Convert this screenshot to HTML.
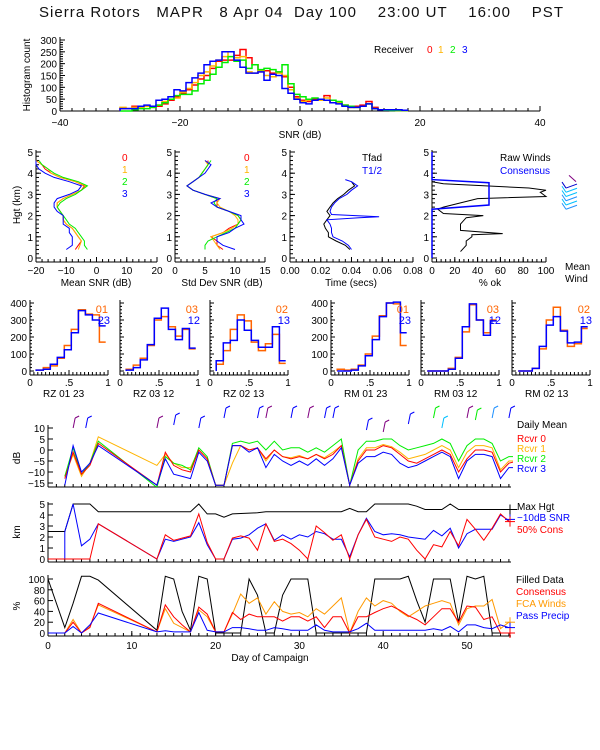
<!DOCTYPE html>
<html><head><meta charset="utf-8"><style>
body{margin:0;background:#fff}
svg{display:block}
text{font-family:"Liberation Sans",sans-serif;font-size:10px}
</style></head><body>
<svg id="c" width="600" height="750" viewBox="0 0 600 750" xmlns="http://www.w3.org/2000/svg">
<text x="39" y="17" xml:space="preserve" textLength="524" lengthAdjust="spacing" style="font-size:15px;white-space:pre;fill:#111">Sierra Rotors   MAPR   8 Apr 04  Day 100    23:00 UT    16:00    PST</text>
</svg>
<script>
// ---------- data ----------
const histBins=[-30,-29,-28,-27,-26,-25,-24,-23,-22,-21,-20,-19,-18,-17,-16,-15,-14,-13,-12,-11,-10,-9,-8,-7,-6,-5,-4,-3,-2,-1,0,1,2,3,4,5,6,7,8,9,10,11,12,13,14,15,16,17];
const histRed=[10,10,20,20,20,15,20,30,45,60,75,90,110,135,150,180,210,215,215,235,260,225,195,165,170,160,165,145,100,60,45,40,50,45,65,35,35,25,15,20,25,40,15,5,5,3,2,2];
const histOrange=[15,10,15,15,20,20,25,40,50,55,80,95,120,150,165,190,215,230,250,225,230,165,160,170,150,145,160,150,90,55,40,45,45,45,55,35,35,25,15,15,20,30,10,5,5,3,2,2];
const histGreen=[0,0,5,10,10,15,25,35,50,65,70,70,85,115,130,155,185,205,230,210,215,180,195,175,180,175,165,195,115,70,60,50,55,50,45,45,40,25,20,15,20,30,10,5,3,2,2,2];
const histBlue=[10,10,10,20,25,20,45,50,60,90,85,120,140,160,195,210,215,250,250,215,185,160,160,165,130,155,150,95,75,50,35,30,45,50,45,35,30,20,15,15,20,30,10,5,5,5,5,3];
const profHgt=[0.4,0.6,0.8,1.0,1.2,1.4,1.6,1.8,2.0,2.2,2.4,2.6,2.8,3.0,3.2,3.4,3.6,3.8,4.0,4.2,4.4,4.6];
const snrRed=[-7,-6,-5,-6,-7,-8,-10,-11,-11,-12,-13,-13,-11,-8,-5,-4,-7,-12,-15,-17,-18,-20];
const snrOrange=[-6,-5.5,-5,-6,-7,-8,-10,-11,-11,-12,-13,-13,-11,-8,-5,-3.5,-7,-12,-15,-16,-18,-20];
const snrGreen=[-3,-4,-4,-5,-6,-7,-9,-10,-11,-12,-13,-12,-10,-7,-5,-3,-6,-11,-14,-16,-18,-19];
const snrBlue=[-10,-8,-8,-8,-9,-9,-11,-11,-11,-13,-14,-14,-13,-9,-6,-5,-9,-14,-17,-19,-20,-20];
const sdRed=[8,7,7,6,8,9,10.5,11,10.5,9,7,7,7,5,3,2,3,4,4.5,5,5.5,5.5];
const sdOrange=[7.5,7,6.5,6,8,9.5,10.5,10.5,10,9,7.5,7,7.5,5,3,2,3,4,4.5,5,5.5,5];
const sdGreen=[5,5,5.5,7,8.5,10,10.5,11,10.5,9,7,6.5,7,5,3,2,3,4,4.5,5,5.5,6];
const sdBlue=[10,8,7,7,9,10,11.5,11,11,9,7,6,7.5,5,3,2,3,4,5,5.5,6,5];
const tHgtK=[0.4,0.6,0.8,1.0,1.2,1.4,1.6,1.8,2.0,2.2,2.4,2.6,2.8,3.0,3.2,3.4,3.6];
const tfad=[0.039,0.036,0.03,0.025,0.025,0.023,0.022,0.024,0.026,0.024,0.026,0.028,0.031,0.035,0.038,0.042,0.04];
const tHgtB=[0.4,0.6,0.8,1.0,1.2,1.4,1.6,1.8,1.9,1.95,2.05,2.2,2.4,2.6,2.8,3.0,3.2,3.4,3.6,3.7];
const thalf=[0.04,0.038,0.034,0.028,0.027,0.027,0.026,0.024,0.045,0.058,0.027,0.026,0.027,0.029,0.032,0.037,0.04,0.044,0.04,0.036];
const okHgtK=[0.3,0.6,0.8,1.0,1.1,1.15,1.3,1.6,1.9,2.0,2.1,2.3,2.4,2.6,2.8,2.9,3.1,3.2,3.3,3.5,3.6];
const okRaw=[25,30,30,35,35,62,25,25,30,45,10,5,10,25,40,100,95,100,85,10,0];
const okHgtB=[0,2.3,2.5,3.55,3.7,5];
const okCons=[0,0,50,50,0,0];
const rBinEdges=[0.08,0.17,0.26,0.35,0.44,0.53,0.62,0.71,0.8,0.89,0.97];
const rOrange=[[5,20,30,75,150,245,360,335,330,170],[10,35,75,150,300,320,260,205,245,130],[40,120,245,330,295,170,120,160,215,45],[10,5,10,35,100,205,325,400,395,150],[0,0,0,15,80,230,390,300,225,300],[0,0,15,130,300,375,240,145,160,250]];
const rBlue=[[5,10,40,80,125,225,355,330,300,265],[5,20,65,155,310,370,245,185,250,135],[60,165,180,300,240,180,140,140,260,60],[0,0,5,30,90,185,320,400,405,225],[0,0,0,10,75,260,395,300,210,295],[0,0,15,145,270,320,235,165,170,260]];
const rTitles=["RZ  01 23","RZ  03 12","RZ  02 13","RM  01 23","RM  03 12","RM  02 13"];
const rPairs=[["01","23"],["03","12"],["02","13"],["01","23"],["03","12"],["02","13"]];
const dbDays=[2,3,4,5,6,13,14,15,16,17,18,19,20,21,22,23,24,25,26,27,28,29,30,31,32,33,34,35,36,37,38,39,40,41,42,43,44,45,46,47,48,49,50,51,52,53,54,55,56];
const db0=[-13,-1,-11,-7,3,-16,-1,-7,-9,-10,0,-4,-16,-16,2,2,0,1,-4,0,-3,-4,-3,-4,-2,-4,-2,2,-16,-5,0,0,2,1,-2,-5,-6,-4,-2,0,-2,-10,-4,0,0,-1,-10,-6,-5];
const db1=[-12,-2,-12,-6,6,-7,-2,-6,-8,-8,0,-4,-16,-16,-6,2,0,1,-5,0,-3,-3.5,-2.5,-4,-2,-3.5,-1,2,-16,-4,1,1,2.5,1.5,-1,-4,-3,-2,0,2,0,-8,-1,2,2,1,-9,-5,-5];
const db2=[-12,1,-11,-6,4,-17,-3,-6,-7,-9,1,-3,-16,-16,3,4,3,4,0,4,0,1,1,-1,1,-1,2,5,-16,0,4,4,5,5,2,0,1,2,3,5,3,-5,2,5,5,3,-5,-3,-3];
const db3=[-16,2,-10,-6,2,-16,-4,-11,-12,-13,-1,-5,-16,-16,2,2,-1,1,-8,-2,-5,-7,-5,-7,-4,-7,-4,1,-16,-6,-3,-3,-1,-2,-6,-8,-7,-5,-3,-1,-3,-13,-5,-2,-2,-3,-13,-8,-8];
const kmDaysMax=[0,2,3,4,5,6,17,18,19,20,21,22,25,26,35,36,37,38,39,43,44,45,47,48,49,56];
const kmMax=[2.5,2.5,5,5,5,4.3,4.3,5,4.1,4.1,3.8,4.1,4.2,4.3,4.3,4.6,4.3,4.3,5,5,4.8,4.5,4.5,5,4.5,4.5];
const kmDays=[0,1,2,2,3,4,5,6,13,14,15,16,17,18,19,20,21,22,23,24,25,26,27,28,29,30,31,32,33,34,35,36,37,38,39,40,41,42,43,44,45,46,47,48,49,50,51,52,53,54,55];
const kmSnr=[0,0,0,2.5,5,1.2,1.8,3.2,0,1.8,1.6,1.8,2,3.3,1.3,0,0,1.8,1.9,2.2,2.8,3.2,1.7,2.2,1.8,2.2,2.0,2.5,2.3,1.8,1.8,0.2,2.2,3.7,2.5,2.2,2.3,2.2,2.0,1.9,1.8,2.6,2.1,2.8,1.0,2.3,2.7,2.7,2.7,4.0,3.5];
const kmCons=[0,0,0,0,0,0,0,3.2,0,2.2,1.7,1.9,2.1,4.1,1.5,0,0,1.9,2.1,1.9,0.8,3.2,1.6,1.8,1.4,0.8,0,3.0,2.4,1.7,2.2,0,2.2,3.6,2.0,1.8,1.6,2.0,1.8,0.8,0,1.3,1.1,2.5,1.2,3.6,2.7,1.7,2.8,4.1,3.4];
const pctDays=[0,2,3,4,5,6,13,14,15,16,17,18,19,20,21,22,23,24,25,26,27,28,29,30,31,32,33,34,35,36,37,38,39,40,41,42,43,44,45,46,47,48,49,50,51,52,53,54,55];
const pctFilled=[100,10,55,105,105,98,5,105,100,40,5,105,100,0,0,0,0,100,70,0,0,70,100,100,100,0,0,0,0,0,0,0,100,100,100,100,105,60,20,100,100,100,20,105,100,105,0,0,0];
const pctCons=[0,0,20,0,10,55,2,52,30,15,2,48,35,2,2,38,25,35,30,30,30,22,30,30,22,30,10,30,30,0,30,30,38,45,50,42,32,25,15,30,45,45,20,50,48,25,30,0,0];
const pctFca=[0,0,25,0,12,52,2,45,18,10,2,43,30,2,2,35,72,55,65,35,58,40,35,38,30,45,35,50,65,0,40,65,50,60,55,40,30,40,50,55,60,55,15,45,50,50,62,8,20];
const pctPrecip=[0,0,12,0,15,37,2,4,2,2,2,38,5,2,2,10,10,8,5,5,10,8,5,5,5,15,5,2,2,2,8,18,5,5,5,5,5,5,5,8,5,12,2,15,15,10,8,15,10];
// ---------- helpers ----------
const svg=document.getElementById('c');const NS='http://www.w3.org/2000/svg';
function mk(tag,attrs,parent){const e=document.createElementNS(NS,tag);for(const k in attrs)e.setAttribute(k,attrs[k]);(parent||svg).appendChild(e);return e;}
function txt(x,y,s,col,anchor,size,parent){const t=mk('text',{x:x,y:y,fill:col||'#000','text-anchor':anchor||'start'},parent);if(size)t.style.fontSize=size+'px';t.textContent=s;return t;}
function poly(xs,ys,X,Y,col,name,w){const pts=xs.map((v,i)=>X(v).toFixed(1)+','+Y(ys[i]).toFixed(1)).join(' ');const p=mk('polyline',{points:pts,fill:'none',stroke:col,'stroke-width':w||1});


return p;}
function step(edges,vals,X,Y,col,name,w){let d='M'+X(edges[0])+','+Y(0);vals.forEach((v,i)=>{const x1=X(edges[i]),x2=X(edges[i+1]!==undefined?edges[i+1]:edges[i]+ (edges[1]-edges[0]));d+=' L'+x1.toFixed(1)+','+Y(v).toFixed(1)+' L'+x2.toFixed(1)+','+Y(v).toFixed(1);});const p=mk('path',{d:d,fill:'none',stroke:col,'stroke-width':w||1.5});


return p;}
function ln(x1,y1,x2,y2,col,w){return mk('line',{x1:x1,y1:y1,x2:x2,y2:y2,stroke:col||'#000','stroke-width':w||1});}
function yaxis(x,y1,y2,vals,Y,fmt,minor){ln(x,y1,x,y2);vals.forEach(v=>{ln(x,Y(v),x+5,Y(v));txt(x-3,Y(v)+4,fmt?fmt(v):String(v),'#000','end');});if(minor)minor.forEach(v=>ln(x,Y(v),x+3,Y(v)));}
function xaxis(y,x1,x2,vals,X,fmt,minor,labY){ln(x1,y,x2,y);vals.forEach(v=>{ln(X(v),y,X(v),y-5);txt(X(v),labY||y+12,fmt?fmt(v):String(v),'#000','middle');});if(minor)minor.forEach(v=>ln(X(v),y,X(v),y-3));}
function rng(a,b,s){const r=[];for(let v=a;v<=b+1e-9;v+=s)r.push(+v.toFixed(4));return r;}
function clip(id,x,y,w,h){const cp=mk('clipPath',{id:id});mk('rect',{x:x,y:y,width:w,height:h},cp);}
function grp(name,cl){const g=mk('g',cl?{'clip-path':'url(#'+cl+')'}:{});return g;}
const RED='#ff0000',ORG='#ffb400',GRN='#00ee00',BLU='#0000ff',ORG2='#ff6400',FCA='#ff9900';
// ---------- histogram ----------
{const X=v=>300+v*6,Y=c=>111-c*0.2367;
yaxis(60,37,111,[0,50,100,150,200,250,300],Y,null,rng(0,300,10));
xaxis(111,60,540,[-40,-20,0,20,40],X,v=>v<0?'\u2212'+(-v):String(v),rng(-40,40,2),126);
const e=histBins.concat([18]);
step(e,histRed,X,Y,RED,'hist-receiver-0');step(e,histOrange,X,Y,ORG,'hist-receiver-1');step(e,histGreen,X,Y,GRN,'hist-receiver-2');step(e,histBlue,X,Y,BLU,'hist-receiver-3');
const t=txt(0,0,'Histogram count');t.setAttribute('transform','translate(30,75) rotate(-90)');t.setAttribute('text-anchor','middle');
txt(300,138,'SNR (dB)','#000','middle');
txt(374,53,'Receiver');txt(427,53,'0',RED);txt(438,53,'1',ORG);txt(450,53,'2',GRN);txt(462,53,'3',BLU);}
// ---------- profile panels ----------
const PY=h=>258-h*21.2;
function ypan(x){yaxis(x,150,262,[0,1,2,3,4,5],PY,null,rng(0,5,0.2));}
{const X=v=>36+(v+20)*3.025;ypan(36);xaxis(262,36,157,[-20,-10,0,10,20],X,v=>v<0?'\u2212'+(-v):String(v),rng(-20,20,2),274);
poly(snrRed,profHgt,X,PY,RED,'mean-snr-0');poly(snrOrange,profHgt,X,PY,ORG,'mean-snr-1');poly(snrGreen,profHgt,X,PY,GRN,'mean-snr-2');poly(snrBlue,profHgt,X,PY,BLU,'mean-snr-3');
txt(96,286,'Mean SNR (dB)','#000','middle');txt(122,161,'0',RED);txt(122,173,'1',ORG);txt(122,185,'2',GRN);txt(122,197,'3',BLU);
const t=txt(0,0,'Hgt (km)');t.setAttribute('transform','translate(20,205) rotate(-90)');t.setAttribute('text-anchor','middle');}
{const X=v=>175+v*6;ypan(175);xaxis(262,175,265,[0,5,10,15],X,null,rng(0,15,1),274);
poly(sdRed,profHgt,X,PY,RED,'std-snr-0');poly(sdOrange,profHgt,X,PY,ORG,'std-snr-1');poly(sdGreen,profHgt,X,PY,GRN,'std-snr-2');poly(sdBlue,profHgt,X,PY,BLU,'std-snr-3');
txt(222,286,'Std Dev SNR (dB)','#000','middle');txt(244,161,'0',RED);txt(244,173,'1',ORG);txt(244,185,'2',GRN);txt(244,197,'3',BLU);}
{const X=v=>290+v*1537;ypan(290);xaxis(262,290,413,[0,0.02,0.04,0.06,0.08],X,v=>v.toFixed(2),rng(0,0.08,0.004),274);
poly(tfad,tHgtK,X,PY,'#000','tfad-line');poly(thalf,tHgtB,X,PY,BLU,'t-half-line');
txt(351,286,'Time (secs)','#000','middle');txt(362,161,'Tfad');txt(362,174,'T1/2',BLU);}
{const X=v=>432+v*1.14;ypan(432);xaxis(262,432,546,[0,20,40,60,80,100],X,null,rng(0,100,4),274);
poly(okRaw,okHgtK,X,PY,'#000','raw-winds-line');poly(okCons,okHgtB,X,PY,BLU,'consensus-line',1.5);
txt(490,286,'% ok','#000','middle');txt(500,161,'Raw Winds');txt(500,174,'Consensus',BLU);txt(565,270,'Mean');txt(565,282,'Wind');
const g=grp('mean-wind-barbs');[[2.3,'#1e90ff'],[2.5,'#00bfff'],[2.7,'#1e90ff'],[2.9,'#00bfff'],[3.1,'#00bfff'],[3.3,'#0000cd']].forEach(([h,c])=>{mk('line',{x1:566,y1:PY(h),x2:577,y2:PY(h)-4,stroke:c},g);mk('line',{x1:566,y1:PY(h),x2:562,y2:PY(h)-6,stroke:c},g);});
mk('line',{x1:576,y1:PY(3.6),x2:569,y2:PY(3.9),stroke:'#800080'},g);}
// ---------- RZ/RM histograms ----------
const rx0=[30,120,210,331,421,512];const RY=c=>371-c*0.17;
rx0.forEach((x0,k)=>{const X=v=>x0+v*78;
ln(x0,300,x0,375);[0,100,200,300,400].forEach(v=>ln(x0,RY(v),x0+4,RY(v)));rng(0,400,20).forEach(v=>ln(x0,RY(v),x0+2,RY(v)));
if(k==0||k==3)[0,100,200,300,400].forEach(v=>txt(x0-3,RY(v)+4,String(v),'#000','end'));
xaxis(375,x0,x0+78,[0,0.5,1],X,v=>v==0.5?'.5':String(v),rng(0,1,0.05),386);
step(rBinEdges,rOrange[k],X,RY,ORG2,'ratio-hist-orange-'+k,1.5);step(rBinEdges,rBlue[k],X,RY,BLU,'ratio-hist-blue-'+k,1.5);
txt(x0+78,313,rPairs[k][0],ORG2,'end',11);txt(x0+80,324,rPairs[k][1],BLU,'end',11);txt(x0+13,397,rTitles[k]);});
// ---------- time series ----------
const DX=d=>48+d*8.38;
{const Y=v=>428+(10-v)*2.2;clip('cA',48,420,465,67);
yaxis(48,425,487,[-15,-10,-5,0,5,10],Y,v=>v<0?'\u2212'+(-v):String(v));xaxis(487,48,511,[],DX,null,rng(0,55,1));
const g=grp('daily-mean-series','cA');[[db1,ORG,'rcvr-1'],[db2,GRN,'rcvr-2'],[db0,RED,'rcvr-0'],[db3,BLU,'rcvr-3']].forEach(([a,c,n])=>g.appendChild(poly(dbDays,a,DX,Y,c,n)));
const t=txt(0,0,'dB');t.setAttribute('transform','translate(20,458) rotate(-90)');t.setAttribute('text-anchor','middle');
txt(517,428,'Daily Mean');txt(517,442,'Rcvr 0',RED);txt(517,452,'Rcvr 1',ORG);txt(517,462,'Rcvr 2',GRN);txt(517,472,'Rcvr 3',BLU);
const b=grp('daily-wind-barbs');[[3,428,'#800080'],[4.5,428,BLU],[13,428,'#800080'],[15,425,BLU],[18,428,BLU],[21,418,BLU],[25,418,BLU],[26,418,'#800080'],[29,418,BLU],[31,418,'#800080'],[33,418,BLU],[34,418,BLU],[38,430,BLU],[40,432,'#800080'],[43,424,BLU],[46,418,GRN],[47,428,'#00bfff'],[50,418,'#800080'],[51,420,GRN],[53,418,'#1e90ff'],[55,418,BLU]].forEach(([d,y,c])=>{mk('line',{x1:DX(d),y1:y,x2:DX(d)+2,y2:y-10,stroke:c},b);mk('line',{x1:DX(d)+2,y1:y-10,x2:DX(d)+6,y2:y-12,stroke:c},b);});}
{const Y=v=>559-v*11;yaxis(48,502,562,[0,1,2,3,4,5],Y);xaxis(562,48,511,[],DX,null,rng(0,55,1));
poly(kmDaysMax,kmMax,DX,Y,'#000','max-height-line');poly(kmDays,kmSnr,DX,Y,BLU,'snr-10db-line');poly(kmDays,kmCons,DX,Y,RED,'cons-50-line');
const t=txt(0,0,'km');t.setAttribute('transform','translate(20,532) rotate(-90)');t.setAttribute('text-anchor','middle');
txt(517,510,'Max Hgt');txt(517,521,'\u221210dB SNR',BLU);txt(517,533,'50% Cons',RED);
ln(505,Y(4.5),515,Y(4.5));ln(510,Y(4.5)-5,510,Y(4.5)+5);ln(505,Y(3.6),515,Y(3.6),BLU);ln(510,Y(3.6)-5,510,Y(3.6)+5,BLU);ln(505,Y(3.4),515,Y(3.4),RED);ln(510,Y(3.4)-5,510,Y(3.4)+5,RED);}
{const Y=v=>633-v*0.54;yaxis(48,575,636,[0,20,40,60,80,100],Y);xaxis(636,48,511,[0,10,20,30,40,50],DX,null,rng(0,55,1),649);
poly(pctDays,pctFilled,DX,Y,'#000','filled-data-line');poly(pctDays,pctFca,DX,Y,FCA,'fca-winds-line');poly(pctDays,pctCons,DX,Y,RED,'consensus-pct-line');poly(pctDays,pctPrecip,DX,Y,BLU,'pass-precip-line');
const t=txt(0,0,'%');t.setAttribute('transform','translate(20,606) rotate(-90)');t.setAttribute('text-anchor','middle');
txt(516,583,'Filled Data');txt(516,595,'Consensus',RED);txt(516,607,'FCA Winds',FCA);txt(516,619,'Pass Precip',BLU);
txt(270,661,'Day of Campaign','#000','middle');
[[20,FCA],[10,BLU],[0,RED]].forEach(([v,c])=>{ln(505,Y(v),515,Y(v),c);ln(510,Y(v)-5,510,Y(v)+5,c);});}
</script>
</body></html>
